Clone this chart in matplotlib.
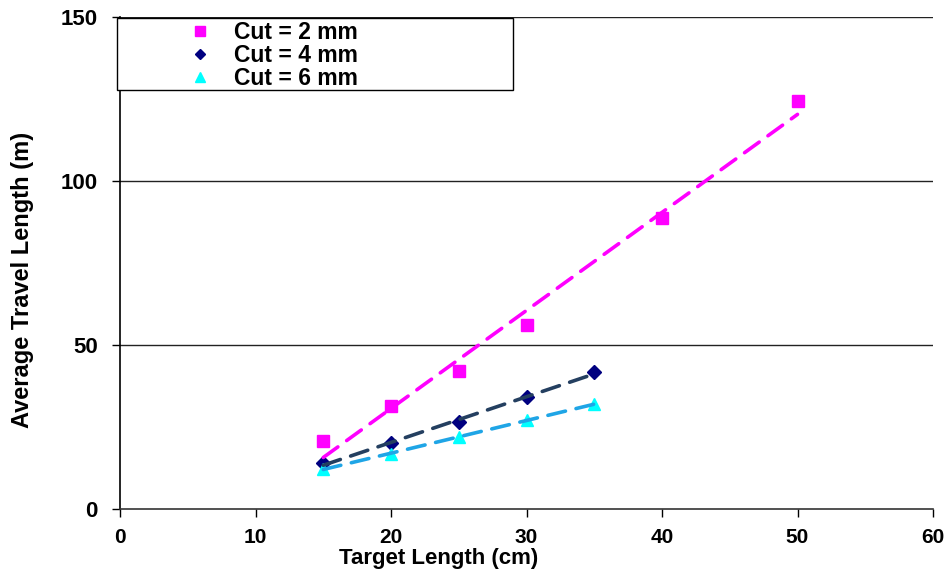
"""Average travel length vs target length for three cut sizes."""

import matplotlib

matplotlib.use("Agg")

import matplotlib.pyplot as plt
from matplotlib.lines import Line2D
from matplotlib.patches import Rectangle
import numpy as np


plt.rcParams["font.family"] = ["Liberation Sans", "DejaVu Sans"]
plt.rcParams["font.weight"] = "bold"

X_CUT2 = [15, 20, 25, 30, 40, 50]
Y_CUT2 = [20.7, 31.4, 42.0, 56.0, 88.7, 124.4]
X_CUT4 = [15, 20, 25, 30, 35]
Y_CUT4 = [14.0, 20.0, 26.5, 34.0, 41.8]
X_CUT6 = [15, 20, 25, 30, 35]
Y_CUT6 = [12.2, 16.8, 22.0, 27.0, 32.0]
LABELS = ["Cut = 2 mm", "Cut = 4 mm", "Cut = 6 mm"]

SERIES = [
    (X_CUT2, Y_CUT2, "s", "#FF00FF", "#FF00FF", 9),
    (X_CUT4, Y_CUT4, "D", "#000080", "#243F60", 7),
    (X_CUT6, Y_CUT6, "^", "#00FFFF", "#1FA5E6", 9),
]

W, H = 951, 577
AX_L, AX_R, AX_T, AX_B = 120, 933, 17, 509


def main() -> None:
    fig = plt.figure(figsize=(W / 100, H / 100), dpi=100)
    ax = fig.add_axes([AX_L / W, 1 - AX_B / H, (AX_R - AX_L) / W, (AX_B - AX_T) / H])

    for yv in (50, 100, 150):
        ax.axhline(yv, color="#222222", linewidth=1.0, zorder=1)

    handles = []
    for (xs, ys, marker, mcolor, lcolor, ms), label in zip(SERIES, LABELS):
        xs = np.asarray(xs, dtype=float)
        ys = np.asarray(ys, dtype=float)
        ax.plot(xs, ys, linestyle="none", marker=marker, color=mcolor, markersize=ms, zorder=3)
        slope, intercept = np.polyfit(xs, ys, 1)
        xf = np.array([xs.min(), xs.max()])
        ax.plot(xf, slope * xf + intercept, color=lcolor, linewidth=2.6, dashes=(5, 3),
                dash_capstyle="round", zorder=4)
        handles.append(Line2D([], [], linestyle="none", marker=marker, color=mcolor,
                              markersize=ms - 1.5, label=label))

    ax.set_xlim(0, 60)
    ax.set_ylim(0, 150)
    ax.set_xticks(np.arange(0, 61, 10))
    ax.set_yticks([0, 50, 100, 150])
    ax.tick_params(axis="x", direction="out", length=6, width=1, labelsize=15, pad=8)
    ax.tick_params(axis="y", direction="out", length=6, width=1, labelsize=16, pad=10)
    for lab in ax.get_xticklabels() + ax.get_yticklabels():
        lab.set_fontweight("bold")
    ax.spines["top"].set_visible(False)
    ax.spines["right"].set_visible(False)
    ax.spines["left"].set_linewidth(1.2)
    ax.spines["bottom"].set_linewidth(1.2)
    ax.spines["bottom"].set_color("#333333")

    ax.set_xlabel("Target Length (cm)", fontsize=16, fontweight="bold")
    ax.xaxis.set_label_coords((439 - AX_L) / (AX_R - AX_L), -(548 - AX_B) / (AX_B - AX_T))
    ax.set_ylabel("Average Travel Length (m)", fontsize=17, fontweight="bold")
    ax.yaxis.set_label_coords(-(AX_L - 34) / (AX_R - AX_L), (AX_B - 280) / (AX_B - AX_T))

    fig.patches.append(Rectangle((117 / W, 1 - 90 / H), (513 - 117) / W, (90 - 18) / H,
                                 transform=fig.transFigure, facecolor="white", edgecolor="black",
                                 linewidth=1.0, zorder=5))
    leg = fig.legend(handles=handles, loc="upper left", bbox_to_anchor=(178 / W, 1 - 10 / H),
                     frameon=False, prop={"weight": "bold", "size": 16.5},
                     handlelength=0.9, handletextpad=1.05, labelspacing=0.0, borderpad=0.0)
    leg.set_zorder(6)

    fig.savefig("out.png", dpi=100, facecolor="white")
    plt.close(fig)


if __name__ == "__main__":
    main()
